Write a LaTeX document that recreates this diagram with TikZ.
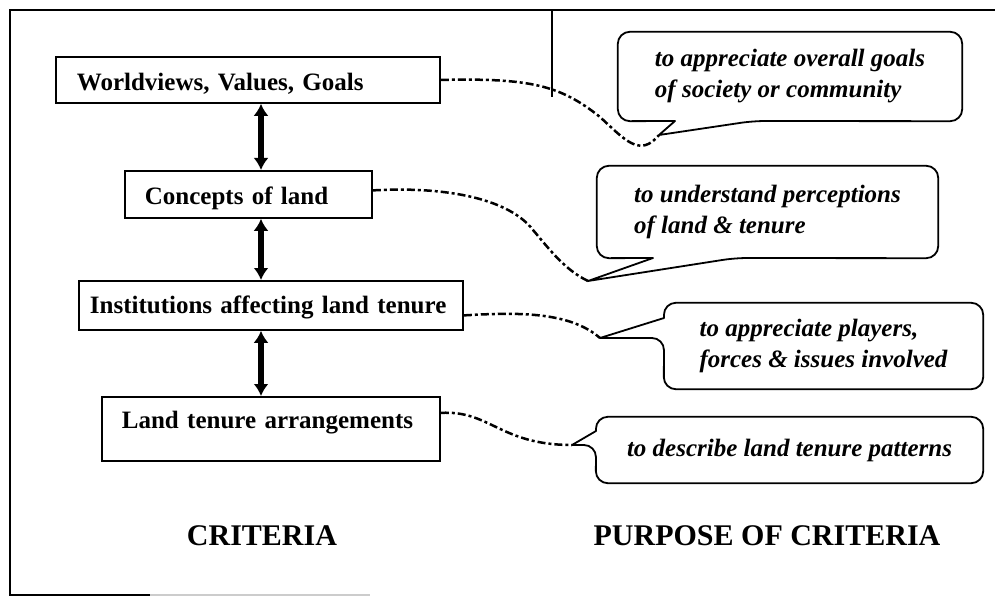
\documentclass[tikz,border=0pt]{standalone}
\usepackage{fontspec}
\setmainfont{Liberation Serif}
\usetikzlibrary{positioning}
\usetikzlibrary{arrows.meta}

\begin{document}
\begin{tikzpicture}
[
x=1pt, y=-1pt,
crit-box/.style={rectangle,draw,line width=1.8pt,anchor=north west,inner ysep=0pt,align=left,
  font=\fontsize{25pt}{30pt}\selectfont\bfseries},
bubble-a/.style={rectangle,inner sep=0pt,align=left,
  font=\fontsize{25pt}{31pt}\selectfont\bfseries\itshape},
bubble-line/.style={line width=1.8pt,line join=round},
title-a/.style={anchor=base,font=\fontsize{30pt}{36pt}\selectfont\bfseries},
arrow-a/.style={{Latex[length=12pt,width=15pt]}-{Latex[length=12pt,width=15pt]},line width=6pt},
link-a/.style={line width=2.5pt,dash pattern=on 8pt off 3pt on 3pt off 3pt},
]
\useasboundingbox (0,0) rectangle (995,596);
\draw [line width=1.8pt] (995,10) -- (10,10) -- (10,595) -- (150,595);
\draw [line width=1.2pt, gray!40] (150,595) -- (370,595);
\draw [line width=2.5pt] (552,10) -- (552,97);

\node (n1) [crit-box, inner xsep=21pt, text width=342pt, text height=34pt, text depth=12pt] at (55,56)  {Worldviews, Values, Goals};
\node (n2) [crit-box, inner xsep=20pt, text width=207pt, text height=34pt, text depth=13pt] at (124,170) {Concepts of land};
\node (n3) [crit-box, inner xsep=11pt, text width=362pt, text height=33pt, text depth=16pt] at (78,280)  {Institutions affecting land tenure};
\node (n4) [crit-box, inner xsep=20pt, text width=298pt, text height=32pt, text depth=32pt] at (101,396) {Land tenure arrangements};

\coordinate (ax) at (261,0);
\draw [arrow-a] (n1.south -| ax) -- (n2.north -| ax);
\draw [arrow-a] (n2.south -| ax) -- (n3.north -| ax);
\draw [arrow-a] (n3.south -| ax) -- (n4.north -| ax);

\node (b1) [bubble-a, minimum width=344pt, minimum height=89pt] at (790,76.5)  {to appreciate overall goals\\of society or community};
\node (b2) [bubble-a, minimum width=341pt, minimum height=92pt] at (767.5,212) {to understand perceptions\\of land \& tenure};
\node (b3) [bubble-a, minimum width=319pt, minimum height=86pt] at (823.5,346) {to appreciate players,\\forces \& issues involved};
\node (b4) [bubble-a, minimum width=387pt, minimum height=66pt] at (789.5,450) {to describe land tenure patterns};

\coordinate (t1)  at (659,135);
\coordinate (t1a) at (675,121);
\coordinate (t1b) at (753,121);
\coordinate (t2)  at (588,281);
\coordinate (t2a) at (653,258);
\coordinate (t2b) at (735,258);
\coordinate (t3)  at (600,338);
\coordinate (t3a) at (664,318);
\coordinate (t3b) at (664,338);
\coordinate (t4)  at (572,445);
\coordinate (t4a) at (596,431);
\coordinate (t4b) at (596,445);

\draw [bubble-line] (b1.west) [rounded corners=12pt] -- (b1.north west) -- (b1.north east) -- (b1.south east)
  -- (t1b) [sharp corners] -- (t1) -- (t1a) [rounded corners=12pt] -- (b1.south west) -- cycle;
\draw [bubble-line] (b2.west) [rounded corners=12pt] -- (b2.north west) -- (b2.north east) -- (b2.south east)
  -- (t2b) [sharp corners] -- (t2) -- (t2a) [rounded corners=12pt] -- (b2.south west) -- cycle;
\draw [bubble-line] (b3.north) [rounded corners=12pt] -- (b3.north east) -- (b3.south east) -- (b3.south west)
  -- (t3b) [sharp corners] -- (t3) -- (t3a) [rounded corners=12pt] -- (b3.north west) -- cycle;
\draw [bubble-line] (b4.north) [rounded corners=12pt] -- (b4.north east) -- (b4.south east) -- (b4.south west)
  -- (t4b) [sharp corners] -- (t4) -- (t4a) [rounded corners=12pt] -- (b4.north west) -- cycle;

\draw [link-a] (n1.east) .. controls (530,78) and (560,85) .. (600,117) .. controls (625,140) and (640,158) .. (t1);
\draw [link-a] ([yshift=4pt]n2.east) .. controls (450,186) and (510,200) .. (533,230) .. controls (550,250) and (565,270) .. (t2);
\draw [link-a] ([yshift=-10pt]n3.east) .. controls (520,312) and (570,312) .. (t3);
\draw [link-a] ([yshift=16pt]n4.east) .. controls (490,410) and (500,445) .. (t4);

\node (h1) [title-a] at (262,545) {CRITERIA};
\node (h2) [title-a] at (767,545) {PURPOSE OF CRITERIA};
\end{tikzpicture}
\end{document}
